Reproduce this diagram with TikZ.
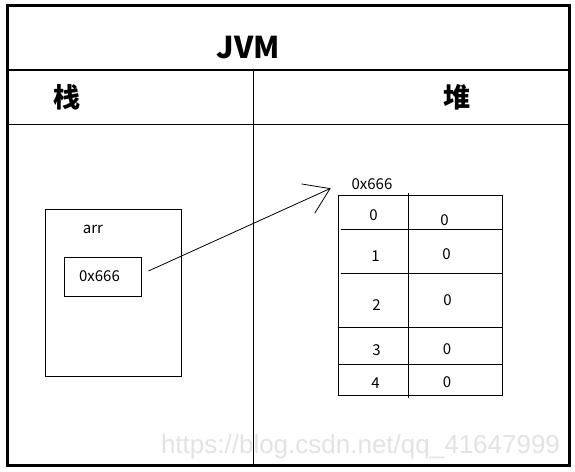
\documentclass[tikz,border=0pt]{standalone}
\usepackage{fontspec}
\setmainfont{Noto Sans CJK SC}
\newfontfamily\wmfont{Liberation Sans}
\usetikzlibrary{arrows.meta}
\begin{document}
\begin{tikzpicture}[x=1pt,y=-1pt,
  frame/.style={line width=3pt},
  rule/.style={line width=1.1pt},
  box/.style={draw,line width=0.9pt},
  grid/.style={line width=0.9pt},
  title/.style={font=\fontsize{30}{32}\selectfont\bfseries, inner sep=0pt},
  head/.style={font=\fontsize{27}{29}\selectfont\bfseries, inner sep=0pt},
  small/.style={font=\fontsize{15}{17}\selectfont, inner sep=0pt},
  wmark/.style={font=\wmfont\fontsize{26}{28}\selectfont, text=gray!22, inner sep=0pt}]
\useasboundingbox (0,0) rectangle (575,471);
\fill[white] (0,0) rectangle (575,471);
% watermark
\node[wmark] (wm) at (360.5,447) {https://blog.csdn.net/qq\_41647999};
% frame and rules
\draw[frame] (7.5,5.5) rectangle (569,465);
\draw[rule] (7.5,70) -- (569,70);
\draw[rule] (7.5,124.3) -- (569,124.3);
\draw[rule] (253.3,70) -- (253.3,465);
% headings
\node[title] (jvm) at (248.5,48) {JVM};
\node[head] (stack) at (67,97.5) {栈};
\node[head] (heap) at (457,97.5) {堆};
% stack frame
\node[box, minimum width=136pt, minimum height=167pt, inner sep=0pt] (frm) at (113,292.5) {};
\node[small] (arr) at (93,229.5) {arr};
\node[box, small, minimum width=77pt, minimum height=39pt] (ref) at (102.5,276.5) {0x666\hspace*{6pt}};
% heap array
\node[small] (addr) at (372,184) {0x666};
\draw[grid] (338.5,195.3) rectangle (502.3,395);
\draw[grid] (408.3,193.3) -- (408.3,397.7);
\draw[grid] (340.7,229.3) -- (502.3,229.3);
\draw[grid] (340.7,273.3) -- (502.3,273.3);
\draw[grid] (338.5,327.3) -- (502.3,327.3);
\draw[grid] (338.5,364.3) -- (503.3,364.3);
\node[small] (i0) at (373.5,215.5) {0};
\node[small] (v0) at (444.5,220.5) {0};
\node[small] (i1) at (375.5,256) {1};
\node[small] (v1) at (446.5,254.5) {0};
\node[small] (i2) at (376.5,305.5) {2};
\node[small] (v2) at (447.5,300.5) {0};
\node[small] (i3) at (376.5,350) {3};
\node[small] (v3) at (447,349) {0};
\node[small] (i4) at (375.5,383) {4};
\node[small] (v4) at (447,382) {0};
% pointer
\coordinate (tip) at (330.7,188.3);
\draw[line width=0.8pt, -{Straight Barb[length=24pt,width=32pt,line width=0.8pt]}]
  ([xshift=7pt,yshift=5.5pt]ref.east) -- (tip);
\end{tikzpicture}
\end{document}
